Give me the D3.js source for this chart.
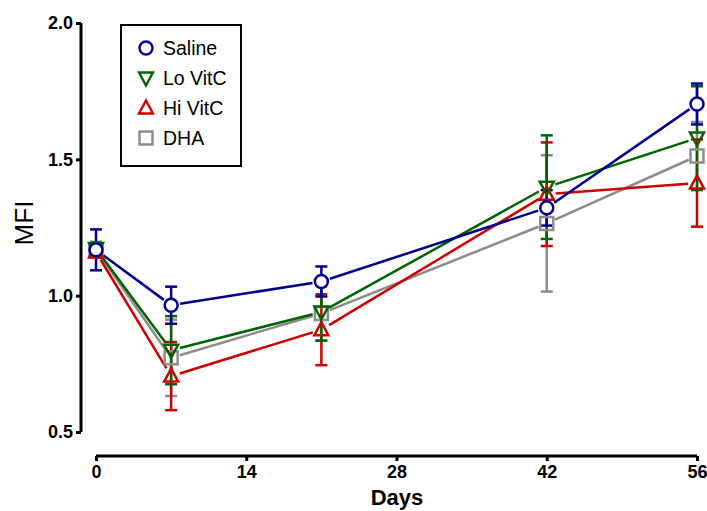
<!DOCTYPE html>
<html>
<head>
<meta charset="utf-8">
<script src="https://cdn.jsdelivr.net/npm/d3@7"></script>
<style>
  body { margin: 0; background: #fff; }
  text { font-family: "Liberation Sans", Arial, sans-serif; }
</style>
</head>
<body>
<div id="chart"></div>
<script>
// data
var days = [0, 7, 21, 42, 56];
var seriesNames = ["Saline", "Lo VitC", "Hi VitC", "DHA"];
var saline = [1.168, 0.965, 1.052, 1.322, 1.703];
var salineErr = [0.075, 0.068, 0.055, 0.065, 0.075];
var loVitC = [1.172, 0.800, 0.940, 1.398, 1.578];
var loVitCErr = [0.025, 0.125, 0.105, 0.190, 0.190];
var hiVitC = [1.160, 0.705, 0.875, 1.372, 1.413];
var hiVitCErr = [0.020, 0.125, 0.130, 0.190, 0.160];
var dha = [1.170, 0.772, 0.935, 1.265, 1.512];
var dhaErr = [0.020, 0.140, 0.100, 0.250, 0.125];
var yTicks = [0.5, 1.0, 1.5, 2.0];
var xTicks = [0, 14, 28, 42, 56];

var width = 707, height = 511;

var svg = d3.select("#chart").append("svg")
    .attr("width", width)
    .attr("height", height);

var x = d3.scaleLinear().domain([0, 56]).range([96, 697]);
var y = d3.scaleLinear().domain([0.5, 2.0]).range([432, 23]);

// axes (prism style, offset)
var yAxis = svg.append("g")
    .attr("transform", "translate(81,0)")
    .call(d3.axisLeft(y).tickValues(yTicks).tickFormat(d3.format(".1f")).tickSize(5).tickPadding(3));
var xAxis = svg.append("g")
    .attr("transform", "translate(0,456)")
    .call(d3.axisBottom(x).tickValues(xTicks).tickSize(5).tickPadding(4));

[yAxis, xAxis].forEach(function(ax) {
    ax.select(".domain").attr("stroke", "#000").attr("stroke-width", 3);
    ax.selectAll(".tick line").attr("stroke", "#000").attr("stroke-width", 3);
    ax.selectAll(".tick text")
        .attr("fill", "#000")
        .attr("font-size", 18)
        .attr("font-weight", "bold")
        .style("font-family", "'Liberation Sans', Arial, sans-serif");
});
// trim domain ends so no outer ticks stick out
yAxis.select(".domain").attr("d", "M0," + y(0.5) + "V" + y(2.0));
xAxis.select(".domain").attr("d", "M" + x(0) + ",0H" + x(56));

svg.append("text")
    .attr("transform", "translate(33,223) rotate(-90)")
    .attr("text-anchor", "middle")
    .attr("font-size", 26)
    .text("MFI");

svg.append("text")
    .attr("x", 397)
    .attr("y", 505)
    .attr("text-anchor", "middle")
    .attr("font-size", 22)
    .attr("font-weight", "bold")
    .text("Days");

var series = [
    { name: "Saline", vals: saline, err: salineErr, color: "#00008f", shape: "circle" },
    { name: "Lo VitC", vals: loVitC, err: loVitCErr, color: "#006400", shape: "down" },
    { name: "Hi VitC", vals: hiVitC, err: hiVitCErr, color: "#cc0000", shape: "up" },
    { name: "DHA", vals: dha, err: dhaErr, color: "#8c8c8c", shape: "square" }
];

function symbolPath(shape) {
    if (shape === "circle") return d3.symbol().type(d3.symbolCircle).size(Math.PI * 6.5 * 6.5)();
    if (shape === "square") return "M-6.5,-6.5H6.5V6.5H-6.5Z";
    if (shape === "up") return "M0,-7.5L7,5.5L-7,5.5Z";
    return "M0,7.5L7,-5.5L-7,-5.5Z";
}

var gap = 9;
var drawOrder = series.slice().reverse();

// connecting lines with gaps at the markers
drawOrder.forEach(function(s) {
    var g = svg.append("g");
    for (var i = 0; i < days.length - 1; i++) {
        var x1 = x(days[i]), y1 = y(s.vals[i]);
        var x2 = x(days[i + 1]), y2 = y(s.vals[i + 1]);
        var len = Math.hypot(x2 - x1, y2 - y1);
        var ux = (x2 - x1) / len, uy = (y2 - y1) / len;
        g.append("line")
            .attr("x1", x1 + ux * gap).attr("y1", y1 + uy * gap)
            .attr("x2", x2 - ux * gap).attr("y2", y2 - uy * gap)
            .attr("stroke", s.color)
            .attr("stroke-width", 2.5);
    }
});

// error bars
drawOrder.forEach(function(s) {
    var g = svg.append("g").attr("stroke", s.color).attr("stroke-width", 2.5);
    days.forEach(function(d, i) {
        var cx = x(d), cy = y(s.vals[i]);
        var top = y(s.vals[i] + s.err[i]), bot = y(s.vals[i] - s.err[i]);
        if (top < cy - 7) g.append("line").attr("x1", cx).attr("x2", cx).attr("y1", top).attr("y2", cy - 7);
        if (bot > cy + 7) g.append("line").attr("x1", cx).attr("x2", cx).attr("y1", cy + 7).attr("y2", bot);
        g.append("line").attr("x1", cx - 6).attr("x2", cx + 6).attr("y1", top).attr("y2", top);
        g.append("line").attr("x1", cx - 6).attr("x2", cx + 6).attr("y1", bot).attr("y2", bot);
    });
});

// markers
drawOrder.forEach(function(s) {
    svg.append("g").selectAll("path")
        .data(s.vals)
        .enter()
        .append("path")
        .attr("d", symbolPath(s.shape))
        .attr("transform", function(v, i) { return "translate(" + x(days[i]) + "," + y(v) + ")"; })
        .attr("fill", s.shape === "circle" ? "#fff" : "none")
        .attr("stroke", s.color)
        .attr("stroke-width", 2.5);
});

// legend
var legend = svg.append("g");
legend.append("rect")
    .attr("x", 121).attr("y", 25)
    .attr("width", 120).attr("height", 141)
    .attr("fill", "#fff")
    .attr("stroke", "#000")
    .attr("stroke-width", 2);

series.forEach(function(s, i) {
    var ly = 48 + i * 30;
    legend.append("path")
        .attr("d", symbolPath(s.shape))
        .attr("transform", "translate(146," + ly + ")")
        .attr("fill", "none")
        .attr("stroke", s.color)
        .attr("stroke-width", 2.4);
    legend.append("text")
        .attr("x", 163)
        .attr("y", ly + 7)
        .attr("font-size", 19.5)
        .text(s.name);
});
</script>
</body>
</html>
